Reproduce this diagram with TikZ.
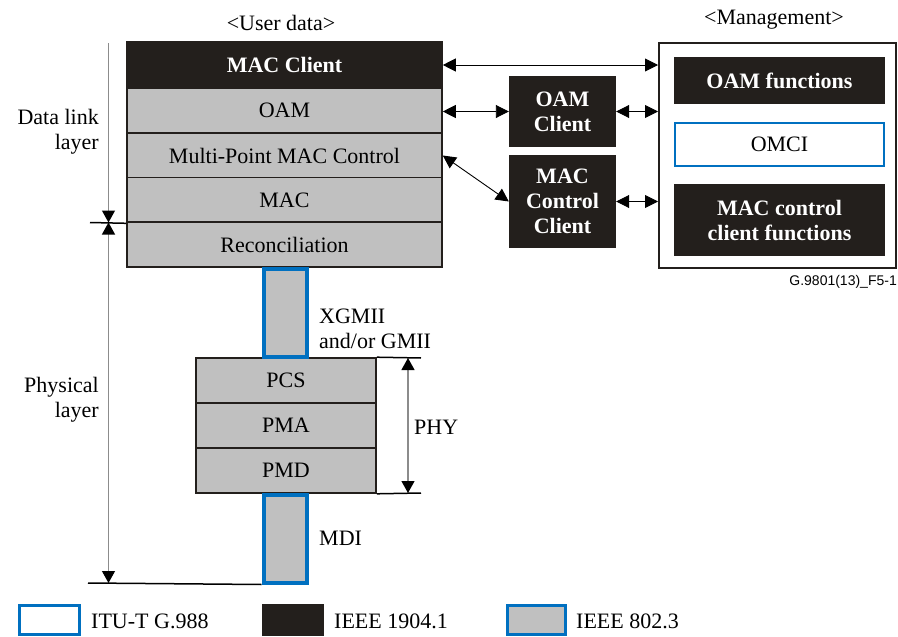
\documentclass[tikz,border=0pt]{standalone}
\usepackage{fontspec}
\setmainfont{Liberation Serif}
\newfontfamily\figidfont{Liberation Sans}
\usetikzlibrary{arrows.meta}

\definecolor{layergray}{RGB}{192,192,192}
\definecolor{ieeeblack}{RGB}{35,31,28}
\definecolor{itublue}{RGB}{0,112,192}
\definecolor{scalegray}{RGB}{140,140,140}

\begin{document}
\begin{tikzpicture}[x=1pt,y=1pt,yscale=-1,
    >={Triangle[length=13pt,width=13pt]},
    every node/.style={font=\fontsize{22}{25}\selectfont, inner sep=0pt},
    layer/.style={draw=ieeeblack, line width=1.6pt, fill=layergray, minimum height=45pt},
    darkbox/.style={fill=ieeeblack, text=white, align=center, font=\fontsize{22}{25}\selectfont\bfseries},
    ifbox/.style={draw=itublue, line width=4pt, fill=layergray, minimum width=43pt, minimum height=88pt},
    link/.style={<->, line width=0.9pt},
    scaleline/.style={draw=scalegray, line width=1.2pt},
    scaletip/.style={-{Triangle[length=12pt,width=13pt,color=black]}},
    scaletips/.style={{Triangle[length=12pt,width=13pt,color=black]}-{Triangle[length=12pt,width=13pt,color=black]}}]
    \useasboundingbox (0,0) rectangle (898,637);

    %user data stack
    \node (userlbl) at (281,23) {\textless User data\textgreater};
    \node [layer, darkbox, minimum width=315pt, minimum height=46pt] (macclient) at (284.5,65) {MAC Client};
    \node [layer, minimum width=315pt] (oam) at (284.5,110.5) {OAM};
    \node [layer, minimum width=315pt] (mpmc) at (284.5,155.5) {Multi-Point MAC Control};
    \node [layer, minimum width=315pt] (mac) at (284.5,200) {MAC};
    \node [layer, minimum width=315pt] (recon) at (284.5,244.5) {Reconciliation};

    %phy stack
    \node [layer, minimum width=180pt] (pcs) at (286,380.5) {PCS};
    \node [layer, minimum width=180pt] (pma) at (286,425.5) {PMA};
    \node [layer, minimum width=180pt] (pmd) at (286,470.5) {PMD};
    \node [ifbox] (xgmii) at (285,312.5) {};
    \node [ifbox] (mdi) at (285,538.5) {};
    \node [anchor=west, align=left] (xgmiilbl) at (319,329) {XGMII\\and/or GMII};
    \node [anchor=west] (mdilbl) at (319,538) {MDI};

    %management side
    \node [darkbox, minimum width=107pt, minimum height=71pt] (oamclient) at (562.5,111.5) {OAM\\Client};
    \node [darkbox, minimum width=107pt, minimum height=93pt] (macctrlclient) at (562.5,201.5) {MAC\\Control\\Client};
    \node [draw=ieeeblack, line width=2pt, minimum width=237pt, minimum height=225pt] (mgmt) at (777.5,155) {};
    \node (mgmtlbl) at (774,20) {\textless Management\textgreater};
    \node [darkbox, minimum width=211pt, minimum height=47pt] (oamfunc) at (779.5,80.5) {OAM functions};
    \node [draw=itublue, line width=2.5pt, fill=white, minimum width=209pt, minimum height=43pt] (omci) at (779.5,144.5) {OMCI};
    \node [darkbox, minimum width=211pt, minimum height=72pt] (macfunc) at (779.5,220) {MAC control\\client functions};
    \node [anchor=east, font=\figidfont\fontsize{14}{16}\selectfont] (figid) at (897,282) {G.9801(13)\_F5-1};

    \draw [link] (macclient.east) -- (macclient.east -| mgmt.west);
    \draw [link] (oamclient.west -| oam.east) -- (oamclient.west);
    \draw [link] (oamclient.east) -- (oamclient.east -| mgmt.west);
    \draw [link] (mpmc.east) -- (macctrlclient.west);
    \draw [link] (macctrlclient.east) -- (macctrlclient.east -| mgmt.west);

    %layer scale on the left
    \coordinate (axtop) at (108.5,43);
    \coordinate (axmid) at (108.5,222.5);
    \coordinate (axbot) at (108.5,583);
    \coordinate (dltick) at (90,222.5);
    \coordinate (plbase) at (88,583);
    \draw [line width=1.5pt] (dltick) -- (mac.south west);
    \draw [line width=1.5pt] (plbase) -- (mdi.south west);
    \draw [scaleline, scaletip] (axtop) -- (axmid);
    \draw [scaleline, scaletips] (axmid) -- (axbot);
    \node [anchor=east, align=right] (dllbl) at (99,132) {Data link\\layer};
    \node [anchor=east, align=right] (phlbl) at (99,400) {Physical\\layer};

    %phy span
    \coordinate (phytop) at (421,358);
    \coordinate (phybot) at (421,493);
    \draw [line width=1.5pt] (pcs.north east) -- (phytop);
    \draw [line width=1.5pt] (pmd.south east) -- (phybot);
    \draw [scaleline, scaletips] ([xshift=-13pt]phytop) -- ([xshift=-13pt]phybot);
    \node [anchor=west] (phylbl) at (414,427) {PHY};

    %legend
    \node [draw=itublue, line width=3pt, fill=white, minimum width=60pt, minimum height=29pt] (legitu) at (49.5,619.5) {};
    \node [anchor=west] (legitulbl) at (91,621) {ITU-T G.988};
    \node [fill=ieeeblack, minimum width=62pt, minimum height=32pt] (legnine) at (293,619.5) {};
    \node [anchor=west] (legninelbl) at (334,621) {IEEE 1904.1};
    \node [draw=itublue, line width=3pt, fill=layergray, minimum width=58pt, minimum height=29pt] (legeight) at (536,619.5) {};
    \node [anchor=west] (legeightlbl) at (576,621) {IEEE 802.3};

\end{tikzpicture}
\end{document}
